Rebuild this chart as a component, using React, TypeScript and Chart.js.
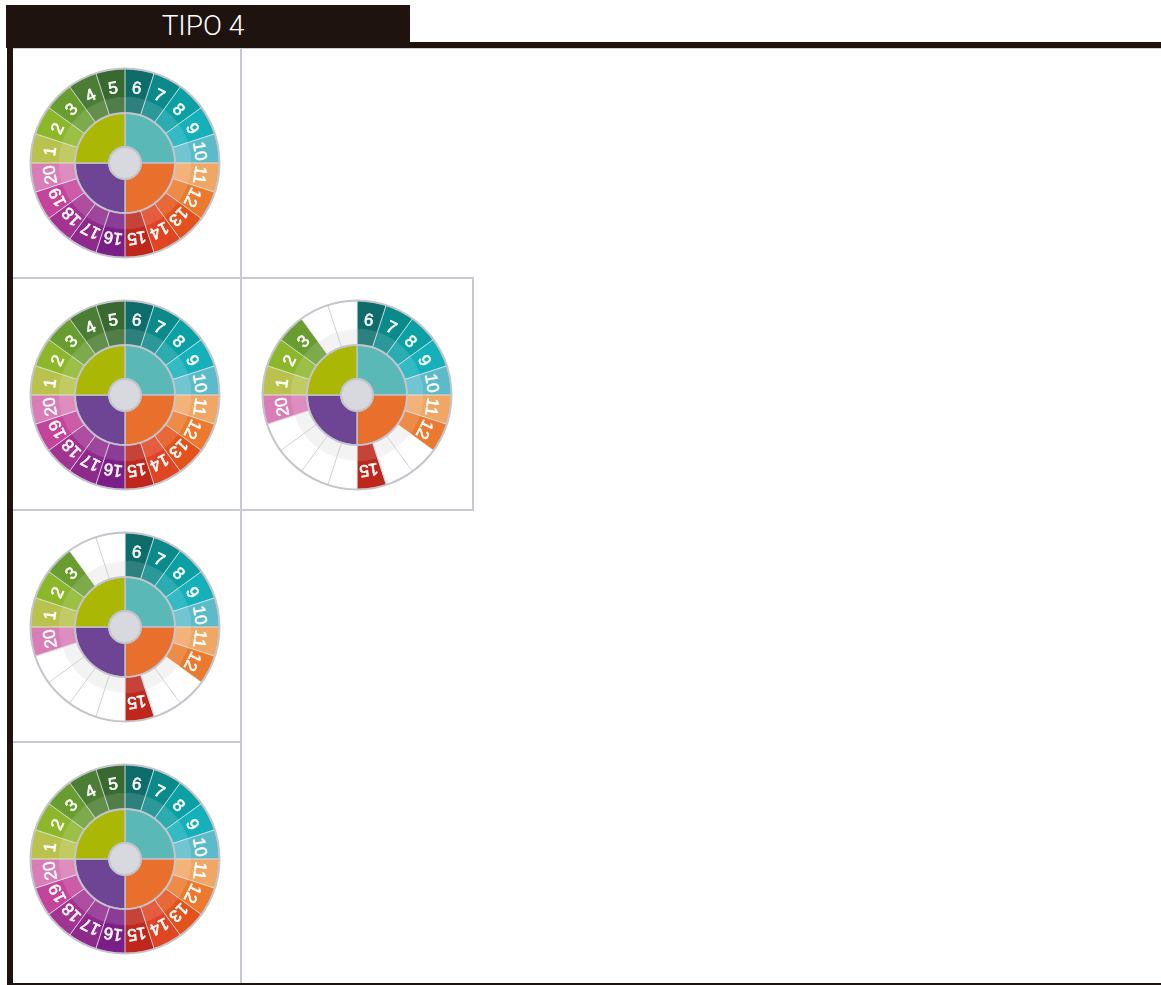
import React, { useEffect, useRef } from "react";
import { Chart, registerables } from "chart.js";

Chart.register(...registerables);

// ---------- DATA ----------
const TITLE = "TIPO 4";
// teeth in drawing order, clockwise starting at 12 o'clock
const TOOTH_ORDER = [6, 7, 8, 9, 10, 11, 12, 13, 14, 15, 16, 17, 18, 19, 20, 1, 2, 3, 4, 5];
const TOOTH_VALUES = [1, 1, 1, 1, 1, 1, 1, 1, 1, 1, 1, 1, 1, 1, 1, 1, 1, 1, 1, 1];
const QUADRANT_LABELS = ["Q1", "Q2", "Q3", "Q4"];
const QUADRANT_VALUES = [1, 1, 1, 1];
const CENTER_VALUES = [1];

const ALL_TEETH = [1, 2, 3, 4, 5, 6, 7, 8, 9, 10, 11, 12, 13, 14, 15, 16, 17, 18, 19, 20];
const PARTIAL_TEETH = [1, 2, 3, 6, 7, 8, 9, 10, 11, 12, 15, 20];

const WHEEL_1 = ALL_TEETH;
const WHEEL_2 = ALL_TEETH;
const WHEEL_3 = PARTIAL_TEETH;
const WHEEL_4 = PARTIAL_TEETH;
const WHEEL_5 = ALL_TEETH;

// ---------- STYLE ----------
const TOOTH_COLORS: Record<number, string> = {
  1: "#b8c24c",
  2: "#8db72a",
  3: "#6a9d30",
  4: "#4c7d34",
  5: "#376930",
  6: "#0e6d6a",
  7: "#0b8a8b",
  8: "#0aa0a4",
  9: "#16b0ba",
  10: "#5cbbcb",
  11: "#f0a766",
  12: "#eb7a2e",
  13: "#e4521b",
  14: "#e04523",
  15: "#be271c",
  16: "#791f86",
  17: "#8e2a8c",
  18: "#a33392",
  19: "#c4449b",
  20: "#d87db6",
};
const QUADRANT_COLORS = ["#5ab8b7", "#e8702c", "#6e4594", "#aab805"];
const CENTER_COLOR = "#d8d9de";
const RING_GREY = "#c4c5cc";
const DARK = "#1e130f";
const GRID = "#c9cad1";

function lighten(hex: string, t: number) {
  const n = parseInt(hex.slice(1), 16);
  const r = (n >> 16) & 255, g = (n >> 8) & 255, b = n & 255;
  const f = (v: number) => Math.round(v + (255 - v) * t);
  return `rgb(${f(r)},${f(g)},${f(b)})`;
}

const decorPlugin = {
  id: "wheelDecor",
  afterDatasetsDraw(chart: any, _args: any, opts: any) {
    const ctx = chart.ctx as CanvasRenderingContext2D;
    const present: number[] = opts.present || [];
    const outer = chart.getDatasetMeta(0).data as any[];
    const quad = chart.getDatasetMeta(2).data as any[];
    const center = chart.getDatasetMeta(3).data as any[];
    if (!outer.length) return;
    const cx = outer[0].x, cy = outer[0].y;
    const R = outer[0].outerRadius;
    const rIn = quad[0].outerRadius;
    // radial separators between teeth
    ctx.save();
    outer.forEach((arc: any, i: number) => {
      const prev = TOOTH_ORDER[(i + TOOTH_ORDER.length - 1) % TOOTH_ORDER.length];
      const cur = TOOTH_ORDER[i];
      const bothEmpty = !present.includes(prev) && !present.includes(cur);
      ctx.strokeStyle = bothEmpty ? "#cfd0d5" : "rgba(230,231,236,0.85)";
      ctx.lineWidth = 1;
      const a = arc.startAngle;
      ctx.beginPath();
      ctx.moveTo(cx + rIn * Math.cos(a), cy + rIn * Math.sin(a));
      ctx.lineTo(cx + R * Math.cos(a), cy + R * Math.sin(a));
      ctx.stroke();
    });
    ctx.restore();
    // labels
    ctx.save();
    ctx.fillStyle = "#ffffff";
    ctx.strokeStyle = "#ffffff";
    ctx.lineWidth = 0.6;
    ctx.font = "17px 'Liberation Sans', Arial, sans-serif";
    ctx.textAlign = "center";
    ctx.textBaseline = "middle";
    outer.forEach((arc: any, i: number) => {
      const tooth = TOOTH_ORDER[i];
      if (!present.includes(tooth)) return;
      const mid = (arc.startAngle + arc.endAngle) / 2;
      const r = arc.outerRadius - 18;
      ctx.save();
      ctx.translate(cx + r * Math.cos(mid), cy + r * Math.sin(mid));
      ctx.rotate(mid + Math.PI / 2);
      ctx.fillText(String(tooth), 0, 1);
      ctx.strokeText(String(tooth), 0, 1);
      ctx.restore();
    });
    ctx.restore();
    // ring outlines
    ctx.save();
    ctx.strokeStyle = RING_GREY;
    ctx.lineWidth = 2;
    const circles = [R + 0.5, rIn, center[0].outerRadius];
    circles.forEach((r) => {
      ctx.beginPath();
      ctx.arc(cx, cy, r, 0, Math.PI * 2);
      ctx.stroke();
    });
    ctx.restore();
  },
};

function Wheel({ present, left, top }: { present: number[]; left: number; top: number }) {
  const ref = useRef<HTMLCanvasElement>(null);
  useEffect(() => {
    if (!ref.current) return;
    const outerColors = TOOTH_ORDER.map((t) => (present.includes(t) ? TOOTH_COLORS[t] : "#ffffff"));
    const bandColors = TOOTH_ORDER.map((t) => (present.includes(t) ? lighten(TOOTH_COLORS[t], 0.13) : "#f3f3f4"));
    const chart = new Chart(ref.current, {
      type: "doughnut",
      data: {
        labels: TOOTH_ORDER.map(String),
        datasets: [
          {
            data: TOOTH_VALUES,
            backgroundColor: outerColors,
            borderColor: outerColors,
            borderWidth: 0.5,
            weight: 28,
          } as any,
          {
            data: TOOTH_VALUES,
            backgroundColor: bandColors,
            borderColor: bandColors,
            borderWidth: 0.5,
            weight: 16,
          } as any,
          {
            data: QUADRANT_VALUES,
            backgroundColor: QUADRANT_COLORS,
            borderColor: "#bfc0c8",
            borderWidth: 1.5,
            weight: 34,
          } as any,
          {
            data: CENTER_VALUES,
            backgroundColor: [CENTER_COLOR],
            borderWidth: 0,
            weight: 16,
          } as any,
        ],
      },
      options: {
        responsive: false,
        animation: false,
        devicePixelRatio: 1,
        events: [],
        radius: 94,
        cutout: 0,
        layout: { padding: 0 },
        plugins: {
          legend: { display: false },
          tooltip: { enabled: false },
          wheelDecor: { present },
        } as any,
      } as any,
      plugins: [decorPlugin as any],
    });
    return () => chart.destroy();
  }, [present]);
  return (
    <canvas
      ref={ref}
      width={200}
      height={200}
      style={{ position: "absolute", left, top, width: 200, height: 200 }}
    />
  );
}

const box = (left: number, top: number, width: number, height: number, bg: string): React.CSSProperties => ({
  position: "absolute",
  left,
  top,
  width,
  height,
  background: bg,
});

export default function App() {
  const wheels = [
    { present: WHEEL_1, cx: 125, cy: 163 },
    { present: WHEEL_2, cx: 125, cy: 395 },
    { present: WHEEL_3, cx: 357, cy: 395 },
    { present: WHEEL_4, cx: 125, cy: 627 },
    { present: WHEEL_5, cx: 125, cy: 859 },
  ];
  return (
    <div style={{ position: "absolute", left: 0, top: 0, width: 1161, height: 985, background: "#fff", overflow: "hidden" }}>
      {/* grid lines */}
      <div style={box(13, 48, 1148, 1, GRID)} />
      <div style={box(240, 48, 2, 935, GRID)} />
      <div style={box(13, 277, 461, 2, GRID)} />
      <div style={box(13, 509, 461, 2, GRID)} />
      <div style={box(472, 277, 2, 234, GRID)} />
      <div style={box(13, 741, 228, 2, GRID)} />
      {/* frame */}
      <div style={box(6, 42, 1155, 6, DARK)} />
      <div style={box(7, 42, 6, 943, DARK)} />
      <div style={box(7, 983, 1154, 2, DARK)} />
      <div
        style={{
          ...box(6, 5, 404, 40, DARK),
          color: "#fff",
          display: "flex",
          alignItems: "center",
          justifyContent: "center",
          fontFamily: "Roboto, 'Liberation Sans', Arial, sans-serif",
          fontSize: 28,
          fontWeight: 300,
          paddingRight: 10,
          boxSizing: "border-box",
        }}
      >
        {TITLE}
      </div>
      {wheels.map((w, i) => (
        <Wheel key={i} present={w.present} left={w.cx - 100} top={w.cy - 100} />
      ))}
    </div>
  );
}
